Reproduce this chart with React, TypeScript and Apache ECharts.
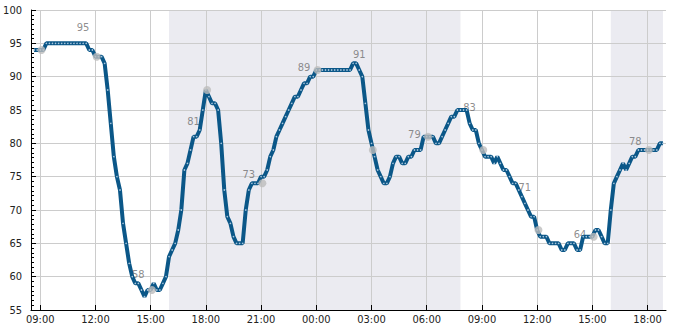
import React, { useEffect, useRef } from "react";
import * as echarts from "echarts";

// Humidity (%) sampled every 10 minutes, starting 08:40 on day 1 (hours counted from day-1 midnight)
const START_HOUR = 8 + 40 / 60;
const STEP_HOURS = 10 / 60;
const humidity = [
  94, 94, 94, 94, 95, 95, 95, 95, 95, 95, 95, 95, 95, 95, 95, 95, 95, 95, // 08:40-11:30
  94, 94, 93, 93, 93, 92, 88, 83, 78, 75, 73, 68, 65, 62, // 11:40-13:50
  60, 59, 59, 58, 57, 58, 58, 59, 58, 58, 59, 60, // 14:00-15:50
  63, 64, 65, 67, 70, 76, 77, 79, 81, 81, 82, 85, // 16:00-17:50
  88, 87, 86, 86, 85, 80, 73, 69, 68, 66, 65, 65, // 18:00-19:50
  65, 70, 73, 74, 74, 74, 75, 75, 76, 78, 79, 81, // 20:00-21:50
  82, 83, 84, 85, 86, 87, 87, 88, 89, 89, 90, 90, // 22:00-23:50
  91, 91, 91, 91, 91, 91, 91, 91, 91, 91, 91, 91, // 00:00-01:50
  92, 92, 91, 90, 86, 82, 80, 78, 76, 75, 74, 74, // 02:00-03:50
  75, 77, 78, 78, 77, 77, 78, 78, 79, 79, 79, 81, // 04:00-05:50
  81, 81, 81, 80, 80, 81, 82, 83, 84, 84, 85, 85, // 06:00-07:50
  85, 85, 83, 82, 82, 80, 79, 78, 78, 78, 77, 78, // 08:00-09:50
  77, 76, 76, 75, 74, 74, 73, 72, 71, 70, 69, 69, // 10:00-11:50
  67, 66, 66, 66, 65, 65, 65, 65, 64, 64, 65, 65, // 12:00-13:50
  65, 64, 64, 66, 66, 66, 66, 67, 67, 66, 65, 65, // 14:00-15:50
  70, 74, 75, 76, 77, 76, 77, 78, 78, 79, 79, 79, // 16:00-17:50
  79, 79, 79, 79, 80, 80, // 18:00-18:50
];

// Grey 3-hourly markers
const markerHours = [9.07, 12.07, 15.07, 18.07, 21.07, 24.07, 27.07, 30.07, 33.07, 36.07, 39.07, 42.07];
const markerValues = [94, 93, 58, 88, 74, 91, 79, 81, 79, 67, 66, 79];

// Value labels
const labelHours = [11.33, 14.33, 17.33, 20.33, 23.33, 26.33, 29.33, 32.33, 35.33, 38.33, 41.33];
const labelValues = [95, 58, 81, 73, 89, 91, 79, 83, 71, 64, 78];

// Axis ticks (hours from day-1 midnight)
const tickHours = [9, 12, 15, 18, 21, 24, 27, 30, 33, 36, 39, 42];
const X_MIN = 8.5;
const X_MAX = 43;
const Y_MIN = 55;
const Y_MAX = 100;
const Y_STEP = 5;

// Shaded periods [start, end] in hours
const shadeRanges = [
  [16, 31 + 50 / 60],
  [40, 42 + 50 / 60],
];

const FONT = "DejaVu Sans Condensed";

export default function App() {
  const ref = useRef<HTMLDivElement>(null);
  useEffect(() => {
    if (!ref.current) return;
    const chart = echarts.init(ref.current, undefined, { renderer: "svg" });
    const lineData = humidity.map((v, i) => [START_HOUR + i * STEP_HOURS, v]);
    const markerData = markerHours.map((h, i) => [h, markerValues[i]]);
    const labelData = labelHours.map((h, i) => [h, labelValues[i]]);
    const fmt = (v: number) => String(Math.round(v) % 24).padStart(2, "0") + ":00";
    chart.setOption({
      animation: false,
      grid: { left: 31, right: 19, top: 10, bottom: 20, containLabel: false },
      xAxis: {
        type: "value",
        min: X_MIN,
        max: X_MAX,
        z: 1.5,
        axisLine: { show: true, onZero: false, lineStyle: { color: "#000", width: 1 } },
        axisTick: { show: true, inside: true, length: 5, customValues: tickHours, lineStyle: { color: "#000" } },
        axisLabel: {
          customValues: tickHours,
          formatter: fmt,
          margin: 4,
          color: "#222",
          fontSize: 11,
          fontFamily: FONT,
        },
        splitLine: { show: true, customValues: tickHours, lineStyle: { color: "#cccccc", width: 1 } },
      },
      yAxis: {
        type: "value",
        min: Y_MIN,
        max: Y_MAX,
        interval: Y_STEP,
        z: 1.5,
        axisLine: { show: true, lineStyle: { color: "#000", width: 1 } },
        axisTick: { show: true, inside: true, length: 5, lineStyle: { color: "#000" } },
        minorTick: { show: true, splitNumber: 7, length: 3, lineStyle: { color: "#000" } },
        axisLabel: { margin: 9, color: "#222", fontSize: 11, fontFamily: FONT },
        splitLine: { show: true, lineStyle: { color: "#cccccc", width: 1 } },
      },
      series: [
        {
          type: "scatter",
          z: 2,
          data: labelData,
          symbolSize: 2,
          itemStyle: { color: "rgba(0,0,0,0)" },
          label: {
            show: true,
            position: "top",
            distance: 9,
            formatter: (p: any) => String(p.value[1]),
            color: "#707070",
            fontSize: 11,
            fontFamily: FONT,
          },
          silent: true,
        },
        {
          type: "line",
          z: 3,
          data: lineData,
          lineStyle: { color: "#0b5788", width: 4 },
          symbol: "circle",
          symbolSize: 1.6,
          showSymbol: true,
          showAllSymbol: true,
          itemStyle: { color: "#a9c6dd", borderWidth: 0 },
          emphasis: { disabled: true },
          silent: true,
          markArea: {
            silent: true,
            z: 1,
            itemStyle: { color: "#ebebf1" },
            data: shadeRanges.map(([a, b]) => [{ xAxis: a }, { xAxis: b }]),
          },
        },
        {
          type: "scatter",
          z: 4,
          data: markerData,
          symbolSize: 8,
          itemStyle: { color: "#bdbdbd" },
          silent: true,
        },
      ],
    });
    return () => chart.dispose();
  }, []);
  return <div ref={ref} style={{ position: "absolute", left: 0, top: 0, width: 685, height: 330 }} />;
}
